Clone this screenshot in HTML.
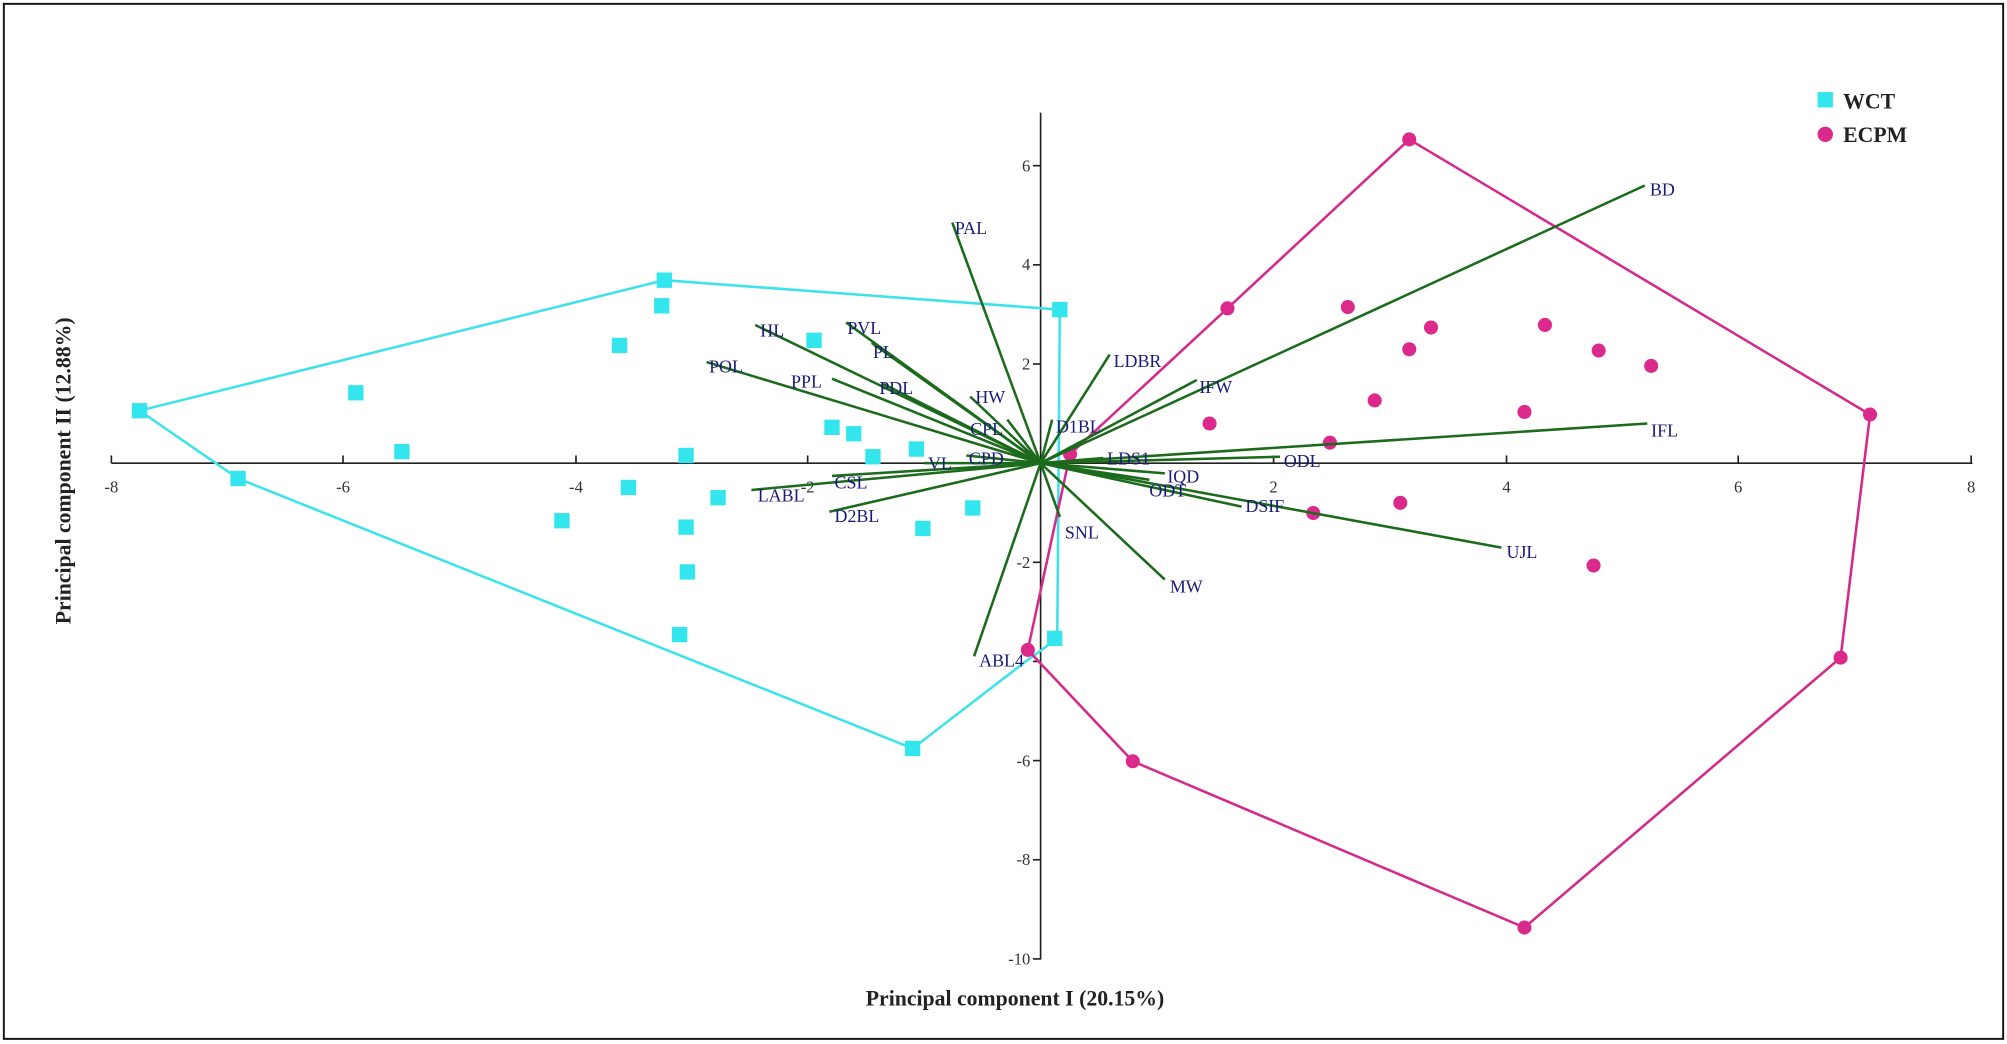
<!DOCTYPE html>
<html><head><meta charset="utf-8"><style>html,body{margin:0;padding:0;background:#fff}svg{display:block}</style></head>
<body>
<svg width="2007" height="1044" viewBox="0 0 1568 816" preserveAspectRatio="none" xmlns="http://www.w3.org/2000/svg">
<rect x="0" y="0" width="1568" height="816" fill="#fff"/>
<rect x="3" y="3" width="1562" height="809" fill="none" stroke="#111" stroke-width="1.5"/>
<!-- axes -->
<g stroke="#222" stroke-width="1.3" fill="none">
<line x1="87" y1="362" x2="1541" y2="362"/>
<line x1="813" y1="88" x2="813" y2="750"/>
<line x1="87" y1="362" x2="87" y2="356"/><line x1="268" y1="362" x2="268" y2="356"/><line x1="450" y1="362" x2="450" y2="356"/><line x1="631" y1="362" x2="631" y2="356"/><line x1="995" y1="362" x2="995" y2="356"/><line x1="1177" y1="362" x2="1177" y2="356"/><line x1="1358" y1="362" x2="1358" y2="356"/><line x1="1540" y1="362" x2="1540" y2="356"/>
<line x1="807" y1="129.5" x2="813" y2="129.5"/><line x1="807" y1="207" x2="813" y2="207"/><line x1="807" y1="284.5" x2="813" y2="284.5"/><line x1="807" y1="439.5" x2="813" y2="439.5"/><line x1="807" y1="517" x2="813" y2="517"/><line x1="807" y1="594.5" x2="813" y2="594.5"/><line x1="807" y1="672" x2="813" y2="672"/><line x1="807" y1="749.5" x2="813" y2="749.5"/>
</g>
<g font-family="Liberation Serif, serif" font-size="13" fill="#333" text-anchor="middle">
<text x="87" y="385">-8</text><text x="268" y="385">-6</text><text x="450" y="385">-4</text><text x="631" y="385">-2</text><text x="995" y="385">2</text><text x="1177" y="385">4</text><text x="1358" y="385">6</text><text x="1540" y="385">8</text>
</g>
<g font-family="Liberation Serif, serif" font-size="13" fill="#333" text-anchor="end">
<text x="805" y="134">6</text><text x="805" y="211">4</text><text x="805" y="289">2</text><text x="805" y="444">-2</text><text x="805" y="599">-6</text><text x="805" y="676">-8</text><text x="805" y="754">-10</text>
</g>
<!-- hulls -->
<polygon points="109,321 519,219 828,242 826,499 800,518 713,585 186,374" fill="none" stroke="#3ee2ea" stroke-width="2"/>
<polygon points="1101,109 1461,324 1438,514 1191,725 885,595 803,508 836,355 959,241" fill="none" stroke="#d42a8c" stroke-width="2"/>
<!-- WCT squares -->
<g fill="#33e6ee">
<rect x="513" y="213" width="12" height="12"/><rect x="511" y="233" width="12" height="12"/><rect x="478" y="264" width="12" height="12"/><rect x="630" y="260" width="12" height="12"/><rect x="272" y="301" width="12" height="12"/><rect x="103" y="315" width="12" height="12"/><rect x="308" y="347" width="12" height="12"/><rect x="530" y="350" width="12" height="12"/><rect x="644" y="328" width="12" height="12"/><rect x="661" y="333" width="12" height="12"/><rect x="676" y="351" width="12" height="12"/><rect x="710" y="345" width="12" height="12"/><rect x="180" y="368" width="12" height="12"/><rect x="485" y="375" width="12" height="12"/><rect x="555" y="383" width="12" height="12"/><rect x="433" y="401" width="12" height="12"/><rect x="530" y="406" width="12" height="12"/><rect x="754" y="391" width="12" height="12"/><rect x="715" y="407" width="12" height="12"/><rect x="531" y="441" width="12" height="12"/><rect x="525" y="490" width="12" height="12"/><rect x="707" y="579" width="12" height="12"/><rect x="822" y="236" width="12" height="12"/><rect x="818" y="493" width="12" height="12"/>
</g>
<!-- ECPM circles -->
<g fill="#dc2a8c">
<circle cx="1101" cy="109" r="5.5"/><circle cx="959" cy="241" r="5.5"/><circle cx="1053" cy="240" r="5.5"/><circle cx="1118" cy="256" r="5.5"/><circle cx="1101" cy="273" r="5.5"/><circle cx="1207" cy="254" r="5.5"/><circle cx="1249" cy="274" r="5.5"/><circle cx="1290" cy="286" r="5.5"/><circle cx="1074" cy="313" r="5.5"/><circle cx="945" cy="331" r="5.5"/><circle cx="1191" cy="322" r="5.5"/><circle cx="1039" cy="346" r="5.5"/><circle cx="836" cy="355" r="5.5"/><circle cx="1461" cy="324" r="5.5"/><circle cx="1094" cy="393" r="5.5"/><circle cx="1026" cy="401" r="5.5"/><circle cx="1245" cy="442" r="5.5"/><circle cx="803" cy="508" r="5.5"/><circle cx="1438" cy="514" r="5.5"/><circle cx="885" cy="595" r="5.5"/><circle cx="1191" cy="725" r="5.5"/>
</g>
<!-- vectors -->
<g stroke="#1c6b1c" stroke-width="2" fill="none">
<line x1="813" y1="362" x2="744" y2="174"/><line x1="813" y1="362" x2="1285" y2="145"/><line x1="813" y1="362" x2="590" y2="254"/><line x1="813" y1="362" x2="661" y2="252"/><line x1="813" y1="362" x2="681" y2="268"/><line x1="813" y1="362" x2="552" y2="283"/><line x1="813" y1="362" x2="650" y2="296"/><line x1="813" y1="362" x2="690" y2="300"/><line x1="813" y1="362" x2="758" y2="310"/><line x1="813" y1="362" x2="787" y2="328"/><line x1="813" y1="362" x2="755" y2="356"/><line x1="813" y1="362" x2="722" y2="362"/><line x1="813" y1="362" x2="650" y2="372"/><line x1="813" y1="362" x2="587" y2="383"/><line x1="813" y1="362" x2="648" y2="400"/><line x1="813" y1="362" x2="761" y2="513"/><line x1="813" y1="362" x2="828" y2="404"/><line x1="813" y1="362" x2="910" y2="453"/><line x1="813" y1="362" x2="970" y2="396"/><line x1="813" y1="362" x2="1173" y2="428"/><line x1="813" y1="362" x2="898" y2="375"/><line x1="813" y1="362" x2="910" y2="370"/><line x1="813" y1="362" x2="1000" y2="357"/><line x1="813" y1="362" x2="1287" y2="331"/><line x1="813" y1="362" x2="862" y2="358"/><line x1="813" y1="362" x2="822" y2="328"/><line x1="813" y1="362" x2="935" y2="297"/><line x1="813" y1="362" x2="867" y2="277"/>
</g>
<g font-family="Liberation Serif, serif" font-size="14" fill="#1a1a78">
<text x="746" y="183">PAL</text><text x="1289" y="153">BD</text><text x="594" y="263">HL</text><text x="662" y="261">PVL</text><text x="682" y="280">PL</text><text x="554" y="291">POL</text><text x="618" y="303">PPL</text><text x="687" y="308">PDL</text><text x="762" y="315">HW</text><text x="758" y="340">CPL</text><text x="757" y="363">CPD</text><text x="725" y="367">VL</text><text x="652" y="382">CSL</text><text x="592" y="392">LABL</text><text x="652" y="408">D2BL</text><text x="765" y="521">ABL4</text><text x="832" y="421">SNL</text><text x="914" y="463">MW</text><text x="973" y="400">DSIF</text><text x="1177" y="436">UJL</text><text x="898" y="388">ODT</text><text x="912" y="377">IQD</text><text x="1003" y="365">ODL</text><text x="1290" y="341">IFL</text><text x="865" y="363">LDS1</text><text x="825" y="338">D1BL</text><text x="937" y="307">IFW</text><text x="870" y="287">LDBR</text>
</g>
<!-- titles -->
<text x="793" y="786" font-family="Liberation Serif, serif" font-size="17" font-weight="bold" text-anchor="middle" fill="#222">Principal component I (20.15%)</text>
<text transform="translate(55,368) rotate(-90)" font-family="Liberation Serif, serif" font-size="17" font-weight="bold" text-anchor="middle" fill="#222">Principal component II (12.88%)</text>
<!-- legend -->
<rect x="1420" y="72" width="12" height="12" fill="#33e6ee"/>
<text x="1440" y="85" font-family="Liberation Serif, serif" font-size="17" font-weight="bold" fill="#222">WCT</text>
<circle cx="1426" cy="105" r="6" fill="#dc2a8c"/>
<text x="1440" y="111" font-family="Liberation Serif, serif" font-size="17" font-weight="bold" fill="#222">ECPM</text>
</svg>
</body></html>
